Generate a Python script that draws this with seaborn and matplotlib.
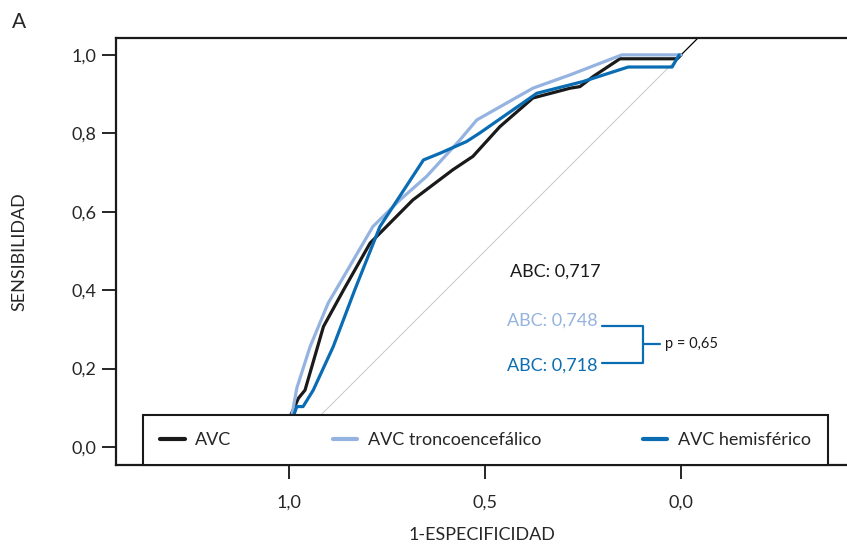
import pandas as pd
import seaborn as sns
import matplotlib.pyplot as plt

# ROC curves (x = 1-especificidad, axis is reversed)
avc_x = [1.0, 0.995, 0.976, 0.959, 0.912, 0.861, 0.793, 0.684, 0.582, 0.531,
         0.462, 0.378, 0.283, 0.258, 0.224, 0.156, 0.010, 0.0]
avc_y = [0.0, 0.082, 0.124, 0.145, 0.307, 0.400, 0.520, 0.630, 0.707, 0.741,
         0.817, 0.890, 0.915, 0.919, 0.945, 0.990, 0.990, 1.0]

tronco_x = [1.0, 0.993, 0.980, 0.946, 0.900, 0.870, 0.786, 0.717, 0.649, 0.564,
            0.521, 0.378, 0.283, 0.151, 0.0]
tronco_y = [0.0, 0.077, 0.150, 0.256, 0.367, 0.418, 0.562, 0.630, 0.690, 0.783,
            0.834, 0.915, 0.949, 1.0, 1.0]

hemis_x = [1.0, 0.989, 0.980, 0.964, 0.938, 0.887, 0.832, 0.768, 0.657, 0.615,
           0.547, 0.513, 0.368, 0.250, 0.135, 0.023, 0.005]
hemis_y = [0.0, 0.077, 0.103, 0.103, 0.145, 0.256, 0.401, 0.562, 0.732, 0.749,
           0.779, 0.801, 0.902, 0.932, 0.969, 0.969, 1.0]

series = ['AVC', 'AVC troncoencefálico', 'AVC hemisférico']
colors = {'AVC': '#1a1a1a', 'AVC troncoencefálico': '#95b3e0', 'AVC hemisférico': '#0a6db3'}
abc = ['0,717', '0,748', '0,718']
p_value = '0,65'

df = pd.concat([
    pd.DataFrame({'x': avc_x, 'y': avc_y, 'grupo': series[0]}),
    pd.DataFrame({'x': tronco_x, 'y': tronco_y, 'grupo': series[1]}),
    pd.DataFrame({'x': hemis_x, 'y': hemis_y, 'grupo': series[2]}),
], ignore_index=True)

sns.set_style('white')
plt.rcParams['font.family'] = ['Lato', 'DejaVu Sans']

fig = plt.figure(figsize=(8.47, 5.44), dpi=100)
ax = fig.add_axes([116 / 847, 1 - 465 / 544, 731 / 847, 427 / 544])

# reference diagonal
ax.plot([1, 0], [0, 1], color='#c8c8c8', lw=0.7, zorder=1)
ax.plot([0, -0.06], [1, 1.06], color='black', lw=0.9, zorder=1)

sns.lineplot(data=df, x='x', y='y', hue='grupo', palette=colors, sort=False,
             estimator=None, lw=2.3, ax=ax, zorder=3)

ax.set_xlim(1.441, -0.423)
ax.set_ylim(-0.046, 1.043)

ax.set_xticks([1.0, 0.5, 0.0])
ax.set_xticklabels(['1,0', '0,5', '0,0'])
ax.set_yticks([0.0, 0.2, 0.4, 0.6, 0.8, 1.0])
ax.set_yticklabels(['0,0', '0,2', '0,4', '0,6', '0,8', '1,0'])
ax.tick_params(axis='y', length=10, width=1.4, pad=4, labelsize=13, direction='out', left=True)
ax.tick_params(axis='x', length=10, width=1.4, pad=11, labelsize=13, direction='out', bottom=True)

for side in ['left', 'top', 'bottom']:
    ax.spines[side].set_color('#1a1a1a')
    ax.spines[side].set_linewidth(1.6)
ax.spines['right'].set_visible(False)

ax.set_xlabel('1-ESPECIFICIDAD', fontsize=13)
ax.set_ylabel('SENSIBILIDAD', fontsize=13)
ax.xaxis.set_label_coords(0.5, -0.145)
ax.yaxis.set_label_coords(-0.121, 0.5)

handles, labels = ax.get_legend_handles_labels()
leg = ax.legend(handles, labels, ncol=3, loc='lower left',
                bbox_to_anchor=(27 / 731, 0, 685 / 731, 50 / 427), mode='expand',
                borderaxespad=0, fontsize=13, handlelength=1.35, handletextpad=0.6,
                borderpad=0.95, fancybox=False, framealpha=1, edgecolor='#1a1a1a')
leg.get_frame().set_linewidth(1.5)
leg.set_zorder(5)
for h in leg.legend_handles:
    h.set_linewidth(3)

# AUC annotations
ax.text(0.436, 0.446, 'ABC: ' + abc[0], color=colors[series[0]], fontsize=13, va='center')
ax.text(0.444, 0.321, 'ABC: ' + abc[1], color=colors[series[1]], fontsize=13, va='center')
ax.text(0.444, 0.207, 'ABC: ' + abc[2], color=colors[series[2]], fontsize=13, va='center')
ax.plot([0.2015, 0.097, 0.097, 0.2015], [0.309, 0.309, 0.214, 0.214],
        color=colors[series[2]], lw=1.6)
ax.plot([0.097, 0.054], [0.2615, 0.2615], color=colors[series[2]], lw=1.6)
ax.text(0.041, 0.2615, 'p = ' + p_value, fontsize=10.5, va='center', color='#1a1a1a')

fig.text(12 / 847, 1 - 22 / 544, 'A', fontsize=15, va='center', ha='left')

fig.savefig('out.png', dpi=100)
